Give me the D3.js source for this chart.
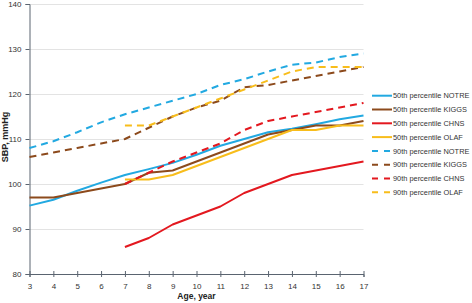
<!DOCTYPE html>
<html><head><meta charset="utf-8">
<script src="https://cdn.jsdelivr.net/npm/d3@7"></script>
<style>body{margin:0;background:#fff}svg{display:block;font-family:"Liberation Sans",Arial,sans-serif}</style>
</head><body><svg id="c" width="472" height="303"></svg>
<script>
const ages = [3,4,5,6,7,8,9,10,11,12,13,14,15,16,17];
const yTicks = [80,90,100,110,120,130,140];
const notre50 = [95.2,96.5,98.5,100.3,102,103.3,104.7,106.5,108.5,110,111.5,112.3,113.3,114.4,115.2];
const kiggs50 = [97,97,98,99,100,102.5,103,105,107,109,111,112,113,113,114];
const chns50  = [null,null,null,null,86,88,91,93,95,98,100,102,103,104,105];
const olaf50  = [null,null,null,null,101,101,102,104,106,108,110,112,112,113,113];
const notre90 = [108,109.5,111.5,113.7,115.5,117,118.5,120,122,123.3,125,126.5,127,128.2,129];
const kiggs90 = [106,107,108,109,110,112.5,115,117,118.5,121.5,122,123,124,125,126];
const chns90  = [null,null,null,null,100,102.5,105,107,109,112,114,115,116,117,118];
const olaf90  = [null,null,null,null,113,113,115,117,119,121,123,125,126,126,126];

const seriesNames = ["50th percentile NOTRE","50th percentile KIGGS","50th percentile CHNS","50th percentile OLAF",
  "90th percentile NOTRE","90th percentile KIGGS","90th percentile CHNS","90th percentile OLAF"];
const seriesData = [notre50,kiggs50,chns50,olaf50,notre90,kiggs90,chns90,olaf90];
const colors = ["#22a9e1","#8c4a1c","#e3181f","#f8bd1b"];

const svg = d3.select("#c");
const x = d3.scaleLinear().domain([3,17]).range([29.5,363.5]);
const y = d3.scaleLinear().domain([80,140]).range([274,4]);

// gridlines
svg.append("g").selectAll("line").data(yTicks.filter(d=>d>80)).join("line")
  .attr("x1",x(3)).attr("x2",x(17)).attr("y1",d=>y(d)+0.5).attr("y2",d=>y(d)+0.5)
  .attr("stroke","#e3e3e3").attr("stroke-width",1);

// y axis
const ya = svg.append("g").attr("transform",`translate(${x(3)},0)`)
  .call(d3.axisLeft(y).tickValues(yTicks).tickSize(4).tickPadding(4));
ya.select(".domain").attr("stroke","#5a6470");
ya.selectAll(".tick line").attr("stroke","#5a6470");
ya.selectAll("text").attr("font-size",8).attr("fill","#333");

// x axis
const xa = svg.append("g").attr("transform",`translate(0,${y(80)})`)
  .call(d3.axisBottom(x).tickValues(ages).tickSize(3).tickPadding(6).tickFormat(d3.format("d")));
xa.select(".domain").attr("stroke","#5a6470");
xa.selectAll(".tick line").attr("stroke","#5a6470").attr("y1",-3);
xa.selectAll("text").attr("font-size",8).attr("fill","#333");

// titles
svg.append("text").attr("x",(x(3)+x(17))/2).attr("y",299).attr("text-anchor","middle")
  .attr("font-size",8.5).attr("font-weight","bold").attr("fill","#222").text("Age, year");
svg.append("text").attr("transform",`translate(8,137) rotate(-90)`).attr("text-anchor","middle")
  .attr("font-size",9).attr("font-weight","bold").attr("fill","#222").text("SBP, mmHg");

// lines
const line = d3.line().defined(d=>d[1]!=null).x(d=>x(d[0])).y(d=>y(d[1]));
seriesData.forEach((vals,i)=>{
  svg.append("path").datum(ages.map((a,j)=>[a,vals[j]]))
    .attr("d",line).attr("fill","none").attr("stroke",colors[i%4])
    .attr("stroke-width",2).attr("stroke-linejoin","round")
    .attr("stroke-dasharray", i>=4 ? "7,5" : null);
});

// legend
const lg = svg.append("g");
seriesNames.forEach((n,i)=>{
  const yy = 95.7 + i*13.8;
  lg.append("line").attr("x1",372).attr("x2",392).attr("y1",yy).attr("y2",yy)
    .attr("stroke",colors[i%4]).attr("stroke-width",2)
    .attr("stroke-dasharray", i>=4 ? "6,6" : null);
  lg.append("text").attr("x",393).attr("y",yy+2.7)
    .attr("font-size",7.4).attr("fill","#333").text(n);
});
</script></body></html>
